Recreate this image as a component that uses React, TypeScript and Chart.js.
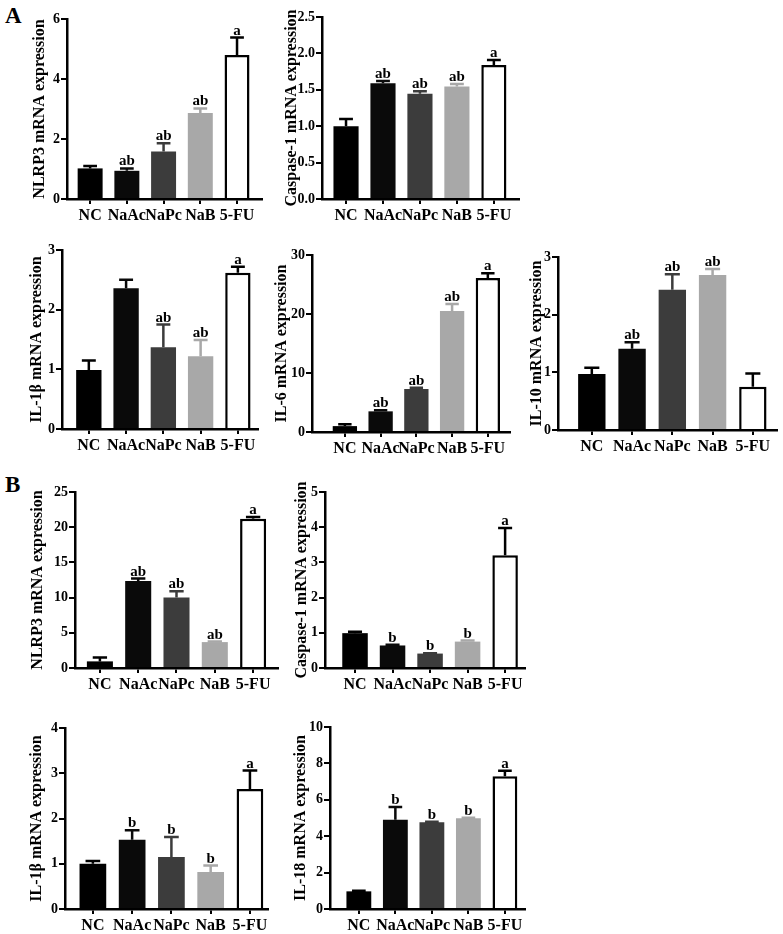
import React, { useEffect, useRef } from "react";
import { Chart, registerables } from "chart.js";
Chart.register(...registerables);

const categories = ["NC", "NaAc", "NaPc", "NaB", "5-FU"];
const barColors = ["#000000", "#0a0a0a", "#3c3c3c", "#a8a8a8", "#ffffff"];
const errColors = ["#000000", "#0a0a0a", "#3c3c3c", "#a8a8a8", "#000000"];
const barBorders = [0, 0, 0, 0, 2.5];

// Panel A
const aNlrp3Mean = [1.02, 0.94, 1.58, 2.87, 4.8];
const aNlrp3Err = [1.1, 1.02, 1.86, 3.02, 5.38];
const aNlrp3Sig = ["", "ab", "ab", "ab", "a"];
const aNlrp3Ticks = ["0", "2", "4", "6"];

const aCasp1Mean = [1.0, 1.59, 1.445, 1.545, 1.84];
const aCasp1Err = [1.1, 1.62, 1.48, 1.58, 1.91];
const aCasp1Sig = ["", "ab", "ab", "ab", "a"];
const aCasp1Ticks = ["0.0", "0.5", "1.0", "1.5", "2.0", "2.5"];

const aIl1bMean = [0.99, 2.36, 1.37, 1.22, 2.62];
const aIl1bErr = [1.15, 2.5, 1.75, 1.49, 2.72];
const aIl1bSig = ["", "", "ab", "ab", "a"];
const aIl1bTicks = ["0", "1", "2", "3"];

const aIl6Mean = [1.0, 3.5, 7.3, 20.5, 26.1];
const aIl6Err = [1.3, 3.7, 7.5, 21.7, 26.9];
const aIl6Sig = ["", "ab", "ab", "ab", "a"];
const aIl6Ticks = ["0", "10", "20", "30"];

const aIl10Mean = [0.97, 1.41, 2.43, 2.69, 0.75];
const aIl10Err = [1.08, 1.52, 2.7, 2.79, 0.98];
const aIl10Sig = ["", "ab", "ab", "ab", ""];
const aIl10Ticks = ["0", "1", "2", "3"];

// Panel B
const bNlrp3Mean = [0.94, 12.36, 10.0, 3.68, 21.2];
const bNlrp3Err = [1.5, 12.7, 10.9, 3.75, 21.45];
const bNlrp3Sig = ["", "ab", "ab", "ab", "a"];
const bNlrp3Ticks = ["0", "5", "10", "15", "20", "25"];

const bCasp1Mean = [0.99, 0.64, 0.41, 0.75, 3.2];
const bCasp1Err = [1.03, 0.66, 0.42, 0.78, 3.98];
const bCasp1Sig = ["", "b", "b", "b", "a"];
const bCasp1Ticks = ["0", "1", "2", "3", "4", "5"];

const bIl1bMean = [1.0, 1.53, 1.15, 0.82, 2.65];
const bIl1bErr = [1.06, 1.74, 1.59, 0.96, 3.06];
const bIl1bSig = ["", "b", "b", "b", "a"];
const bIl1bTicks = ["0", "1", "2", "3", "4"];

const bIl18Mean = [0.97, 4.9, 4.76, 4.98, 7.29];
const bIl18Err = [1.0, 5.6, 4.8, 5.02, 7.6];
const bIl18Sig = ["", "b", "b", "b", "a"];
const bIl18Ticks = ["0", "2", "4", "6", "8", "10"];

type PanelCfg = {
  title: string;
  mean: number[];
  err: number[];
  sig: string[];
  ticks: string[];
  // layout (page pixels)
  axisX: number;
  topY: number;
  endX: number;
  zeroY: number;
  xmin: number;
  xmax: number;
  titleGap: number;
};

const panels: PanelCfg[] = [
  { title: "NLRP3 mRNA expression", mean: aNlrp3Mean, err: aNlrp3Err, sig: aNlrp3Sig, ticks: aNlrp3Ticks, axisX: 67, topY: 19, endX: 262, zeroY: 199, xmin: -0.63, xmax: 4.68, titleGap: 27 },
  { title: "Caspase-1 mRNA expression", mean: aCasp1Mean, err: aCasp1Err, sig: aCasp1Sig, ticks: aCasp1Ticks, axisX: 322, topY: 17, endX: 519, zeroY: 199, xmin: -0.65, xmax: 4.68, titleGap: 30 },
  { title: "IL-1β mRNA expression", mean: aIl1bMean, err: aIl1bErr, sig: aIl1bSig, ticks: aIl1bTicks, axisX: 62, topY: 250, endX: 258, zeroY: 429, xmin: -0.72, xmax: 4.54, titleGap: 25 },
  { title: "IL-6 mRNA expression", mean: aIl6Mean, err: aIl6Err, sig: aIl6Sig, ticks: aIl6Ticks, axisX: 312, topY: 255, endX: 510, zeroY: 432, xmin: -0.92, xmax: 4.62, titleGap: 30 },
  { title: "IL-10 mRNA expression", mean: aIl10Mean, err: aIl10Err, sig: aIl10Sig, ticks: aIl10Ticks, axisX: 558, topY: 257, endX: 777, zeroY: 430, xmin: -0.84, xmax: 4.6, titleGap: 21 },
  { title: "NLRP3 mRNA expression", mean: bNlrp3Mean, err: bNlrp3Err, sig: bNlrp3Sig, ticks: bNlrp3Ticks, axisX: 75, topY: 492, endX: 278, zeroY: 668, xmin: -0.65, xmax: 4.65, titleGap: 37 },
  { title: "Caspase-1 mRNA expression", mean: bCasp1Mean, err: bCasp1Err, sig: bCasp1Sig, ticks: bCasp1Ticks, axisX: 325, topY: 492, endX: 525, zeroY: 668, xmin: -0.8, xmax: 4.53, titleGap: 23 },
  { title: "IL-1β mRNA expression", mean: bIl1bMean, err: bIl1bErr, sig: bIl1bSig, ticks: bIl1bTicks, axisX: 65, topY: 728, endX: 268, zeroY: 909, xmin: -0.71, xmax: 4.46, titleGap: 28 },
  { title: "IL-18 mRNA expression", mean: bIl18Mean, err: bIl18Err, sig: bIl18Sig, ticks: bIl18Ticks, axisX: 330, topY: 727, endX: 525, zeroY: 909, xmin: -0.79, xmax: 4.55, titleGap: 29 },
];

const FONT = '"Liberation Serif", "Times New Roman", serif';
const YW = 60;
const PAD_TOP = 12;
const PAD_RIGHT = 4;
const XH = 30;

function Panel({ cfg }: { cfg: PanelCfg }) {
  const ref = useRef<HTMLCanvasElement | null>(null);
  const width = cfg.endX - cfg.axisX + YW + PAD_RIGHT;
  const height = cfg.zeroY - cfg.topY + PAD_TOP + XH;

  useEffect(() => {
    if (!ref.current) return;
    const tickVals = cfg.ticks.map((t) => parseFloat(t));
    const errPlugin = {
      id: "errbars",
      afterDatasetsDraw(chart: any) {
        const meta = chart.getDatasetMeta(0);
        const ys = chart.scales.y;
        const ctx = chart.ctx;
        meta.data.forEach((el: any, i: number) => {
          const p = el.getProps(["x", "y", "width"], true);
          const top = ys.getPixelForValue(cfg.err[i]);
          ctx.save();
          ctx.strokeStyle = errColors[i];
          ctx.lineWidth = 2.5;
          ctx.beginPath();
          ctx.moveTo(p.x, p.y);
          ctx.lineTo(p.x, top);
          const cw = p.width * 0.55;
          ctx.moveTo(p.x - cw / 2, top);
          ctx.lineTo(p.x + cw / 2, top);
          ctx.stroke();
          if (cfg.sig[i]) {
            ctx.fillStyle = "#000";
            ctx.font = `bold 15px ${FONT}`;
            ctx.textAlign = "center";
            ctx.textBaseline = "alphabetic";
            ctx.fillText(cfg.sig[i], p.x, top - 3);
          }
          ctx.restore();
        });
      },
    };

    const chart = new Chart(ref.current, {
      type: "bar",
      data: {
        datasets: [
          {
            data: cfg.mean.map((v, i) => ({ x: i, y: v })),
            backgroundColor: barColors,
            borderColor: "#000",
            borderWidth: barBorders,
            borderSkipped: "start",
            barPercentage: 0.68,
            categoryPercentage: 1,
          } as any,
        ],
      },
      options: {
        responsive: false,
        animation: false,
        events: [],
        layout: { padding: { top: PAD_TOP, right: PAD_RIGHT, left: 0, bottom: 0 } },
        plugins: { legend: { display: false }, tooltip: { enabled: false } },
        scales: {
          x: {
            type: "linear",
            offset: false,
            min: cfg.xmin,
            max: cfg.xmax,
            afterBuildTicks: (s: any) => {
              s.ticks = categories.map((_, i) => ({ value: i }));
            },
            afterFit: (s: any) => {
              s.height = XH;
            },
            ticks: {
              autoSkip: false,
              maxRotation: 0,
              minRotation: 0,
              padding: 2,
              color: "#000",
              font: { family: FONT, size: 16, weight: "bold" },
              callback: (v: any) => categories[Math.round(Number(v))] ?? "",
            },
            grid: { display: true, offset: false, drawOnChartArea: false, drawTicks: true, tickLength: 5, color: "#000", lineWidth: 2 },
            border: { display: true, color: "#000", width: 2.5 },
          },
          y: {
            type: "linear",
            min: tickVals[0],
            max: tickVals[tickVals.length - 1],
            afterBuildTicks: (s: any) => {
              s.ticks = tickVals.map((v) => ({ value: v }));
            },
            afterFit: (s: any) => {
              s.width = YW;
            },
            ticks: {
              padding: 1,
              color: "#000",
              font: { family: FONT, size: 14, weight: "bold" },
              callback: (_v: any, idx: number) => cfg.ticks[idx],
            },
            grid: { display: true, drawOnChartArea: false, drawTicks: true, tickLength: 6, color: "#000", lineWidth: 2 },
            border: { display: true, color: "#000", width: 2.5 },
            title: {
              display: true,
              text: cfg.title,
              color: "#000",
              font: { family: FONT, size: 16, weight: "bold" },
              padding: { top: YW - cfg.titleGap - 9.6, bottom: 0 },
            },
          },
        },
      },
      plugins: [errPlugin],
    } as any);
    return () => chart.destroy();
  }, [cfg]);

  return (
    <canvas
      ref={ref}
      width={width}
      height={height}
      style={{ position: "absolute", left: cfg.axisX - YW, top: cfg.topY - PAD_TOP, width, height }}
    />
  );
}

export default function App() {
  const letterStyle: React.CSSProperties = {
    position: "absolute",
    left: 5,
    fontFamily: FONT,
    fontWeight: "bold",
    fontSize: 23,
    lineHeight: "23px",
    color: "#000",
  };
  return (
    <div style={{ position: "absolute", left: 0, top: 0, width: 783, height: 934, background: "#fff", overflow: "hidden" }}>
      <div style={{ ...letterStyle, top: 4 }}>A</div>
      <div style={{ ...letterStyle, top: 473 }}>B</div>
      {panels.map((p, i) => (
        <Panel key={i} cfg={p} />
      ))}
    </div>
  );
}
